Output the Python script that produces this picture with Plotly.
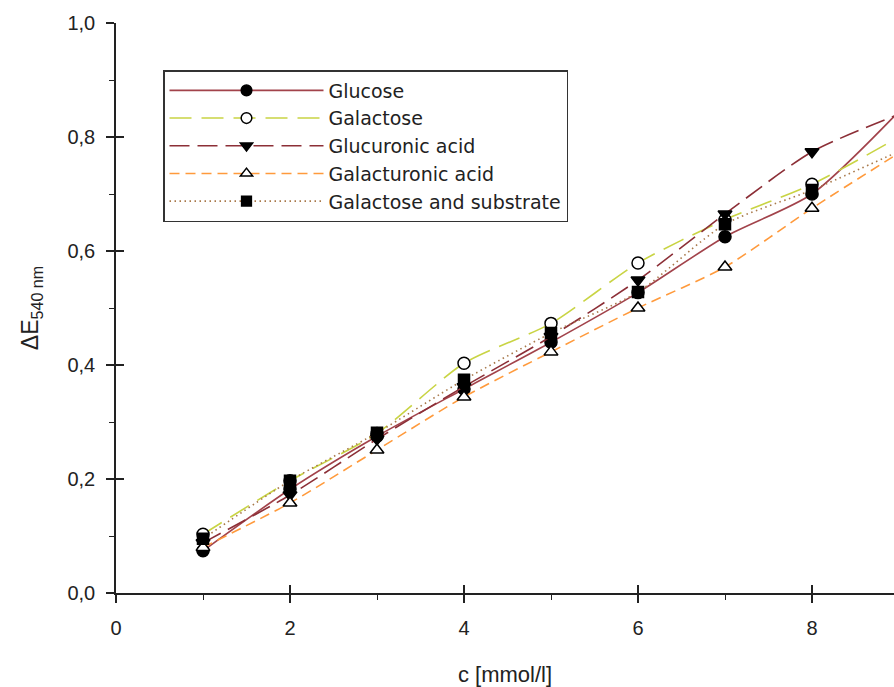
import plotly.graph_objects as go

conc = [1, 2, 3, 4, 5, 6, 7, 8, 9]
glucose = [0.074, 0.182, 0.275, 0.358, 0.440, 0.527, 0.625, 0.700, 0.845]
galactose = [0.103, 0.197, 0.280, 0.403, 0.473, 0.579, 0.655, 0.717, 0.800]
glucuronic = [0.088, 0.172, 0.270, 0.362, 0.450, 0.549, 0.665, 0.774, 0.840]
galacturonic = [0.080, 0.158, 0.251, 0.344, 0.423, 0.500, 0.572, 0.675, 0.772]
gal_substrate = [0.095, 0.197, 0.281, 0.374, 0.456, 0.528, 0.647, 0.707, 0.775]

series_names = ["Glucose", "Galactose", "Glucuronic acid", "Galacturonic acid",
                "Galactose and substrate"]

x_ticks = [0, 2, 4, 6, 8]
y_ticks = [0.0, 0.2, 0.4, 0.6, 0.8, 1.0]

styles = [
    dict(color="#A2434B", dash="solid", symbol="circle", fill="black", size=12),
    dict(color="#C9D444", dash="22px,10px", symbol="circle", fill="white", size=12),
    dict(color="#8C2F37", dash="20px,8px", symbol="triangle-down", fill="black", size=12),
    dict(color="#FF9A3C", dash="10px,6px", symbol="triangle-up", fill="white", size=12),
    dict(color="#A8784A", dash="1.5px,3.5px", symbol="square", fill="black", size=11),
]

data = [glucose, galactose, glucuronic, galacturonic, gal_substrate]

# last point (x=9) lies beyond the visible right edge of the frame
visible_until = 8

fig = go.Figure()
for name, vals, st in zip(series_names, data, styles):
    sizes = [st["size"] if c <= visible_until else 0 for c in conc]
    fig.add_trace(go.Scatter(
        x=conc, y=vals, name=name, mode="lines+markers",
        line=dict(color=st["color"], dash=st["dash"], width=1.6,
                  shape="spline", smoothing=0.7),
        marker=dict(symbol=st["symbol"], size=sizes, opacity=1,
                    color=st["fill"], line=dict(color="black", width=1.5)),
    ))

# empty trace so the overlay axes (inner half of the crossing ticks) are drawn
fig.add_trace(go.Scatter(x=[None], y=[None], xaxis="x2", yaxis="y2",
                         showlegend=False, hoverinfo="skip"))

font_family = "Arial, 'Liberation Sans', sans-serif"
xr = [0, 778 / 87]

fig.update_layout(
    width=894, height=687,
    margin=dict(l=116, r=0, t=23, b=94),
    plot_bgcolor="white", paper_bgcolor="white",
    separators=",.",
    font=dict(family=font_family, size=20, color="#222"),
    showlegend=True,
    legend=dict(
        x=(163 - 116) / 778, y=(593 - 70) / 570, xanchor="left", yanchor="top",
        bgcolor="white", bordercolor="#333", borderwidth=1.5,
        font=dict(family="'DejaVu Sans', Arial, sans-serif", size=19, color="#222"),
        itemwidth=154,
    ),
    xaxis=dict(
        range=xr, tickvals=x_ticks, ticks="outside", ticklen=8, tickwidth=1.5,
        tickcolor="#222", showline=True, linecolor="#222", linewidth=1.5,
        showgrid=False, zeroline=False, tickfont=dict(size=20),
        ticklabelstandoff=8,
        minor=dict(dtick=1, tick0=0, ticks="outside", ticklen=5, tickcolor="#222", tickwidth=1),
        title=dict(text="c [mmol/l]", font=dict(size=22), standoff=29),
    ),
    yaxis=dict(
        range=[0, 1.0], tickvals=y_ticks, tickformat=".1f", ticks="outside", ticklen=8,
        tickwidth=1.5, tickcolor="#222", showline=True, linecolor="#222", linewidth=1.5,
        showgrid=False, zeroline=False, tickfont=dict(size=20),
        ticklabelstandoff=7,
        minor=dict(dtick=0.1, tick0=0, ticks="outside", ticklen=5, tickcolor="#222", tickwidth=1),
        title=dict(text="ΔE<sub>540 nm</sub>", font=dict(size=23), standoff=22),
    ),
    xaxis2=dict(overlaying="x", anchor="y2", range=xr, tickvals=x_ticks, ticks="inside",
                ticklen=8, tickwidth=1.5, tickcolor="#222", showticklabels=False,
                showline=False, showgrid=False, zeroline=False),
    yaxis2=dict(overlaying="y", anchor="x2", range=[0, 1.0], tickvals=y_ticks, ticks="inside",
                ticklen=8, tickwidth=1.5, tickcolor="#222", showticklabels=False,
                showline=False, showgrid=False, zeroline=False),
)

fig.write_html("out.html")
